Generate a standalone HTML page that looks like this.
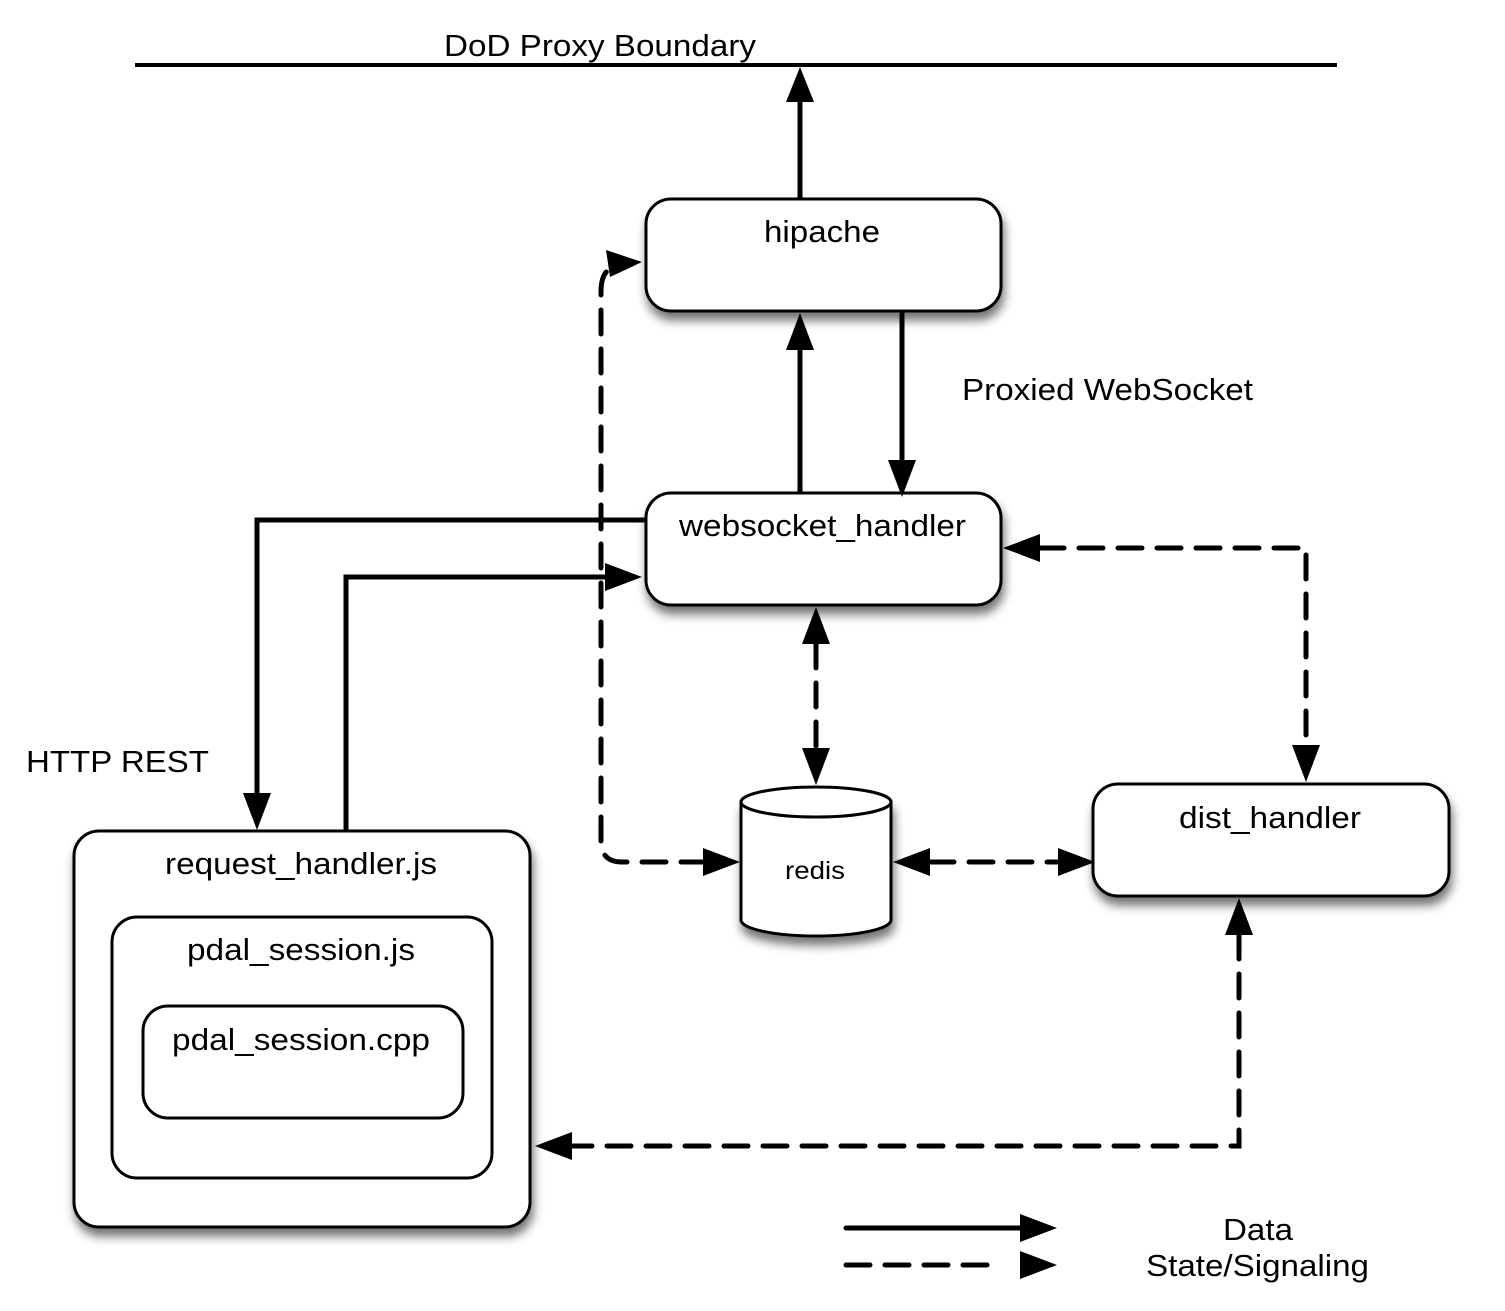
<!DOCTYPE html>
<html><head><meta charset="utf-8"><style>
html,body{margin:0;padding:0;background:#fff;}
svg{display:block;}
text{font-family:"Liberation Sans",sans-serif;fill:#000;}
</style></head><body>
<svg width="1505" height="1311" viewBox="0 0 1505 1311" xmlns="http://www.w3.org/2000/svg">
<defs>
<filter id="sh" x="-10%" y="-10%" width="130%" height="140%">
<feDropShadow dx="2" dy="8" stdDeviation="5" flood-color="#000" flood-opacity="0.55"/>
</filter>
</defs>
<line x1="135" y1="65" x2="1337" y2="65" stroke="#000" stroke-width="4"/>
<text x="444" y="56" font-size="31" textLength="312" lengthAdjust="spacingAndGlyphs">DoD Proxy Boundary</text>

<g fill="#fff" stroke="#000" stroke-width="3">
<rect x="646" y="199" width="355" height="112" rx="25" filter="url(#sh)"/>
<rect x="646" y="493" width="355" height="112" rx="25" filter="url(#sh)"/>
<rect x="1093" y="784" width="356" height="112" rx="25" filter="url(#sh)"/>
<rect x="74" y="831" width="456" height="396" rx="25" filter="url(#sh)"/>
<rect x="112" y="917" width="380" height="261" rx="25"/>
<rect x="143" y="1006" width="320" height="112" rx="25"/>
<path d="M741,802 V920 A75,16 0 0 0 891,920 V802 Z" filter="url(#sh)"/>
<ellipse cx="816" cy="802" rx="75" ry="15"/>
</g>

<text x="764" y="242" font-size="31" textLength="116" lengthAdjust="spacingAndGlyphs">hipache</text>
<text x="679" y="536" font-size="31" textLength="287" lengthAdjust="spacingAndGlyphs">websocket_handler</text>
<text x="1179" y="828" font-size="31" textLength="182" lengthAdjust="spacingAndGlyphs">dist_handler</text>
<text x="165" y="874" font-size="31" textLength="272" lengthAdjust="spacingAndGlyphs">request_handler.js</text>
<text x="187" y="960" font-size="31" textLength="228" lengthAdjust="spacingAndGlyphs">pdal_session.js</text>
<text x="172" y="1050" font-size="31" textLength="258" lengthAdjust="spacingAndGlyphs">pdal_session.cpp</text>
<text x="785" y="879" font-size="25" textLength="60" lengthAdjust="spacingAndGlyphs">redis</text>
<text x="962" y="400" font-size="31" textLength="291" lengthAdjust="spacingAndGlyphs">Proxied WebSocket</text>
<text x="26" y="772" font-size="31" textLength="183" lengthAdjust="spacingAndGlyphs">HTTP REST</text>
<text x="1223" y="1240" font-size="31" textLength="70" lengthAdjust="spacingAndGlyphs">Data</text>
<text x="1146" y="1276" font-size="31" textLength="223" lengthAdjust="spacingAndGlyphs">State/Signaling</text>

<g stroke="#000" stroke-width="5" fill="none">
<line x1="800" y1="199" x2="800" y2="100"/>
<line x1="800" y1="493" x2="800" y2="348"/>
<line x1="902" y1="311" x2="902" y2="462"/>
<path d="M646,520 H257 V795"/>
<path d="M346,830 V577 H607"/>
<line x1="846" y1="1228" x2="1022" y2="1228" stroke-linecap="round"/>
</g>
<g stroke="#000" stroke-width="5" fill="none" stroke-dasharray="24 15" stroke-linecap="round">
<path d="M705,862 H622 Q601,862 601,841 V292 Q601,272 612,268"/>
<line x1="816" y1="644" x2="816" y2="748"/>
<path d="M1040,548 H1306 V746"/>
<line x1="930" y1="862" x2="1058" y2="862"/>
<path d="M1239,935 V1146 H572"/>
<line x1="846" y1="1265" x2="1002" y2="1265"/>
</g>
<g fill="#000">
<polygon points="800,67 786,102 814,102"/>
<polygon points="800,313 786,350 814,350"/>
<polygon points="902,497 888,460 916,460"/>
<polygon points="642,262 606,250 610,277"/>
<polygon points="740,862 703,848 703,876"/>
<polygon points="257,830 243,793 271,793"/>
<polygon points="642,577 605,563 605,591"/>
<polygon points="816,607 802,644 830,644"/>
<polygon points="816,785 802,748 830,748"/>
<polygon points="1003,548 1040,534 1040,562"/>
<polygon points="1306,782 1292,745 1320,745"/>
<polygon points="893,862 930,848 930,876"/>
<polygon points="1095,862 1058,848 1058,876"/>
<polygon points="1239,898 1225,935 1253,935"/>
<polygon points="535,1146 572,1132 572,1160"/>
<polygon points="1020,1214 1057,1228 1020,1242"/>
<polygon points="1020,1251 1057,1265 1020,1279"/>
</g>
</svg>
</body></html>
